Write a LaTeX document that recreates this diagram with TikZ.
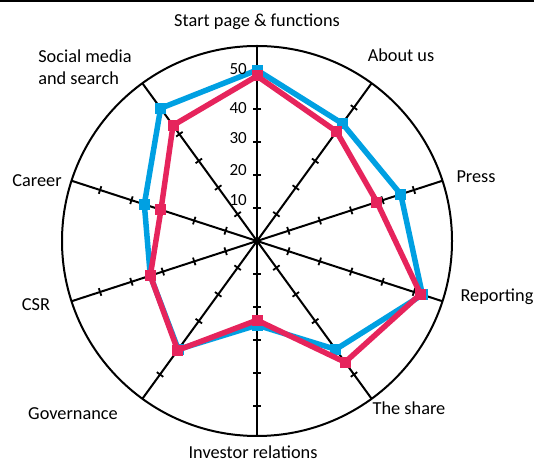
\documentclass[tikz,border=0pt]{standalone}
\usepackage{fontspec}
\setmainfont{Carlito}
\usetikzlibrary{calc}
\definecolor{seriesblue}{RGB}{0,160,226}
\definecolor{seriesred}{RGB}{230,36,92}
\tikzset{
  axisline/.style={line width=2pt},
  tickmark/.style={line width=1.8pt},
  catlabel/.style={font=\fontsize{18.3}{21.6}\selectfont, inner sep=0pt},
  scalelabel/.style={font=\fontsize{17}{18}\selectfont, inner sep=0pt, anchor=east},
}
\begin{document}
\begin{tikzpicture}[x=1pt,y=1pt]
    \useasboundingbox (0,0) rectangle (534,462);
    % Top rule
    \draw[line width=2.5pt] (0,461) -- (534,461);

    \begin{scope}[shift={(257,221)}]
    \coordinate (O) at (0,0);
    % Outer circle
    \draw[axisline] (O) circle (195);

    % Spokes with tick marks every 10
    \foreach \a in {90,54,...,-234} {
        \draw[axisline] (O) -- (\a:195);
        \foreach \r in {1,...,5}
            \draw[tickmark, rotate=\a] (\r*33,-4) -- (\r*33,4);
    }

    % Blue series
    \foreach \v [count=\i] in {51.8,44,45.8,52.7,40.6,25.5,40.6,34,35.9,49.7}
        \coordinate (b\i) at ({90-36*(\i-1)}:\v*3.3);
    \draw[seriesblue, line width=5.5pt, line join=round]
        (b1) -- (b2) -- (b3) -- (b4) -- (b5) -- (b6) -- (b7) -- (b8) -- (b9) -- (b10) -- cycle;
    \foreach \i in {1,...,10}
        \fill[seriesblue] ($(b\i)+(-5.5,-5.5)$) rectangle ($(b\i)+(5.5,5.5)$);

    % Red series
    \foreach \v [count=\i] in {50,41,38.2,52.1,45.4,24,40.9,34,30.6,43.3}
        \coordinate (r\i) at ({90-36*(\i-1)}:\v*3.3);
    \draw[seriesred, line width=5.5pt, line join=round]
        (r1) -- (r2) -- (r3) -- (r4) -- (r5) -- (r6) -- (r7) -- (r8) -- (r9) -- (r10) -- cycle;
    \foreach \i in {1,...,10}
        \fill[seriesred] ($(r\i)+(-5.5,-5.5)$) rectangle ($(r\i)+(5.5,5.5)$);
    \end{scope}

    % Scale labels
    \node[scalelabel] (s10) at (247,262) {10};
    \node[scalelabel] (s20) at (247,292) {20};
    \node[scalelabel] (s30) at (247,324) {30};
    \node[scalelabel] (s40) at (247,354) {40};
    \node[scalelabel] (s50) at (247,393) {50};

    % Category labels
    \node[catlabel] (start) at (257,440) {Start page \& functions};
    \node[catlabel] (about) at (401,407) {About us};
    \node[catlabel] (press) at (476,285) {Press};
    \node[catlabel] (reporting) at (497,165) {Reporting};
    \node[catlabel] (share) at (409,54) {The share};
    \node[catlabel, anchor=base] (investor) at (253,3.5) {Investor relations};
    \node[catlabel] (governance) at (73,48) {Governance};
    \node[catlabel] (csr) at (36,157) {CSR};
    \node[catlabel] (career) at (37,281) {Career};
    \node[catlabel, align=left] (social) at (85,394.5) {Social media\\and search};
\end{tikzpicture}
\end{document}
